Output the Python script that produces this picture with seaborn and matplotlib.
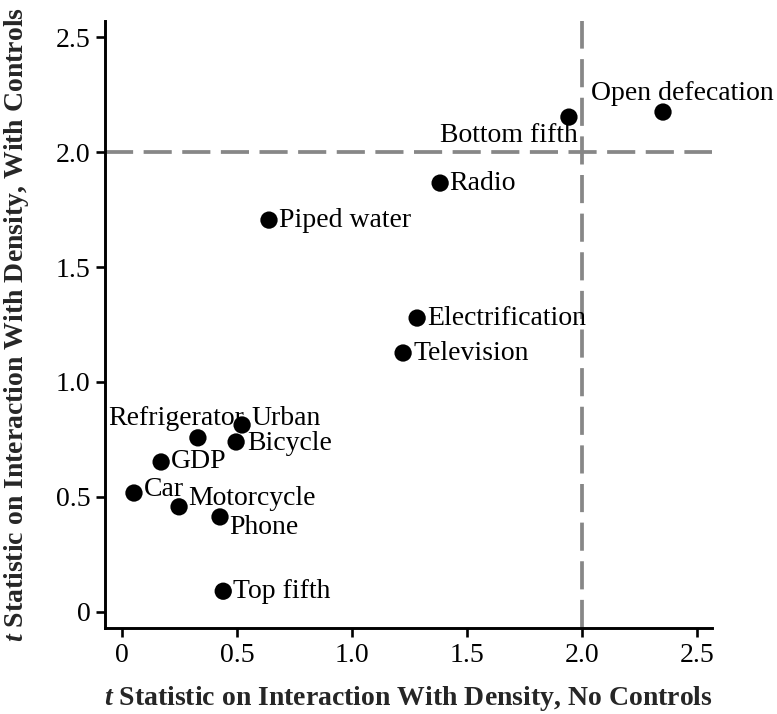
import matplotlib
matplotlib.use("Agg")
import matplotlib.pyplot as plt
import seaborn as sns
import pandas as pd

labels = ["Open defecation", "Bottom fifth", "Radio", "Piped water", "Electrification",
          "Television", "Urban", "Refrigerator", "Bicycle", "GDP", "Car",
          "Motorcycle", "Phone", "Top fifth"]
t_no_controls = [2.352, 1.943, 1.383, 0.639, 1.283, 1.222, 0.522, 0.330, 0.496,
                 0.170, 0.052, 0.248, 0.426, 0.440]
t_with_controls = [2.174, 2.152, 1.865, 1.704, 1.278, 1.126, 0.813, 0.757, 0.739,
                   0.652, 0.517, 0.457, 0.413, 0.090]
x_ticks = [0, 0.5, 1.0, 1.5, 2.0, 2.5]
x_tick_labels = ["0", "0.5", "1.0", "1.5", "2.0", "2.5"]
y_ticks = [0, 0.5, 1.0, 1.5, 2.0, 2.5]
y_tick_labels = ["0", "0.5", "1.0", "1.5", "2.0", "2.5"]

# label placement: (dx px, dy px, ha)
label_pos = {
    "Open defecation": (-72, 19, "left"),
    "Bottom fifth": (9, -18, "right"),
    "Radio": (9, 0, "left"),
    "Piped water": (10, 0, "left"),
    "Electrification": (10, 0, "left"),
    "Television": (10, 0, "left"),
    "Urban": (9, 6, "left"),
    "Refrigerator": (46, 19, "right"),
    "Bicycle": (11, -2, "left"),
    "GDP": (10, 0, "left"),
    "Car": (10, 4, "left"),
    "Motorcycle": (9, 8, "left"),
    "Phone": (9, -11, "left"),
    "Top fifth": (10, 0, "left"),
}

df = pd.DataFrame({"label": labels, "x": t_no_controls, "y": t_with_controls})

sns.set_theme(style="ticks")
plt.rcParams["font.family"] = ["Liberation Serif", "DejaVu Serif"]
plt.rcParams["mathtext.fontset"] = "custom"
plt.rcParams["mathtext.it"] = "Liberation Serif:italic:bold"
plt.rcParams["mathtext.rm"] = "Liberation Serif:bold"

fig = plt.figure(figsize=(7.77, 7.14), dpi=100)
ax = fig.add_axes([105 / 777, 86 / 714, (712 - 105) / 777, (628 - 21) / 714])

ax.axhline(2.0, color="#878787", lw=2.7, dashes=(7.5, 2.8), zorder=1)
ax.axvline(2.0, color="#878787", lw=2.7, dashes=(7.5, 2.8), zorder=1)

sns.scatterplot(data=df, x="x", y="y", ax=ax, color="black", s=155,
                edgecolor="none", zorder=3, legend=False)

for lab, xv, yv in zip(labels, t_no_controls, t_with_controls):
    dx, dy, ha = label_pos[lab]
    ax.annotate(lab, (xv, yv), xytext=(dx, dy), textcoords="offset pixels",
                ha=ha, va="center", fontsize=20, color="black", zorder=4)

ax.set_xlim(-0.074, 2.565)
ax.set_ylim(-0.07, 2.57)
ax.set_xticks(x_ticks)
ax.set_xticklabels(x_tick_labels)
ax.set_yticks(y_ticks)
ax.set_yticklabels(y_tick_labels)
ax.tick_params(axis="both", direction="out", length=6.5, width=1.9,
               labelsize=20, color="black", labelcolor="black", pad=4)

for side in ["top", "right"]:
    ax.spines[side].set_visible(False)
for side in ["left", "bottom"]:
    ax.spines[side].set_linewidth(2.1)
    ax.spines[side].set_color("black")

ax.set_xlabel(r"$t$ Statistic on Interaction With Density, No Controls",
              fontsize=20, fontweight="bold", labelpad=12)
ax.set_ylabel(r"$t$ Statistic on Interaction With Density, With Controls",
              fontsize=20, fontweight="bold", labelpad=18)

fig.savefig("out.png", dpi=100, facecolor="white")
